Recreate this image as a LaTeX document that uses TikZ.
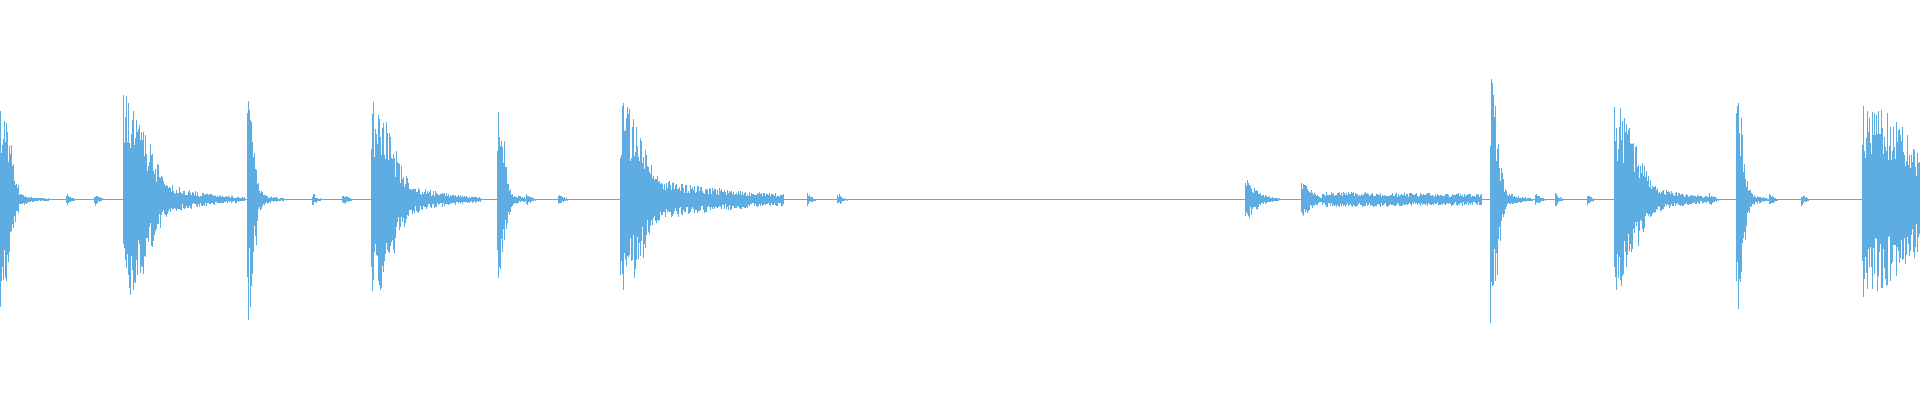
\documentclass[tikz,border=0pt]{standalone}
\begin{document}
\definecolor{wave}{RGB}{93,172,226}
\newcommand\wburst[5]{% t, A, tau, length, power
  \pgfmathsetmacro\wend{#1+#4}
  \pgfmathsetmacro\wnext{#1+0.7}
  \foreach \x in {#1,\wnext,...,\wend}{
    \pgfmathsetmacro\d{\x-#1}
    \pgfmathsetmacro\e{#2*exp(-min((\d/#3)^#5,20))+0.5}
    \pgfmathsetmacro\u{\e*(0.4+0.6*rnd)}
    \pgfmathsetmacro\l{\e*(0.4+0.6*rnd)}
    \draw[wave,line width=0.75pt] (\x,163-\u) -- (\x,163+\l);
  }}
\begin{tikzpicture}[x=1.2245pt,y=-1.2245pt]
\useasboundingbox (0,0) rectangle (1568,326.67);
\pgfmathsetseed{11}
\draw[wave,line width=0.35pt] (0,163) -- (1568,163);
% bursts
\wburst{0}{90}{11}{16}{2}
\wburst{10}{10}{10}{30}{1}
\wburst{101}{90}{26}{45}{2}
\wburst{125}{20}{30}{75}{1}
\wburst{202}{100}{7}{12}{2}
\wburst{212}{7}{8}{20}{1}
\wburst{303}{84}{24}{45}{2}
\wburst{328}{16}{30}{65}{1}
\wburst{406}{92}{7}{12}{2}
\wburst{416}{7}{8}{20}{1}
\wburst{507}{82}{25}{45}{2}
\wburst{530}{18}{80}{110}{1}
\wburst{1017}{17}{12}{35}{1.5}
\wburst{1063}{15}{10}{30}{1.5}
\wburst{1080}{6}{400}{130}{1}
\wburst{1217}{106}{8}{14}{2}
\wburst{1227}{9}{10}{25}{1}
\wburst{1318}{78}{24}{45}{2}
\wburst{1342}{14}{30}{60}{1}
\wburst{1418}{98}{7}{12}{2}
\wburst{1428}{7}{8}{20}{1}
\wburst{1521}{80}{60}{47}{2}
% blips
\foreach \t in {54,77,255,280,430,456,659,684,1168,1190,1254,1270,1296,1396,1445,1471}{
  \wburst{\t}{5}{4}{10}{1.5}}
\end{tikzpicture}
\end{document}
